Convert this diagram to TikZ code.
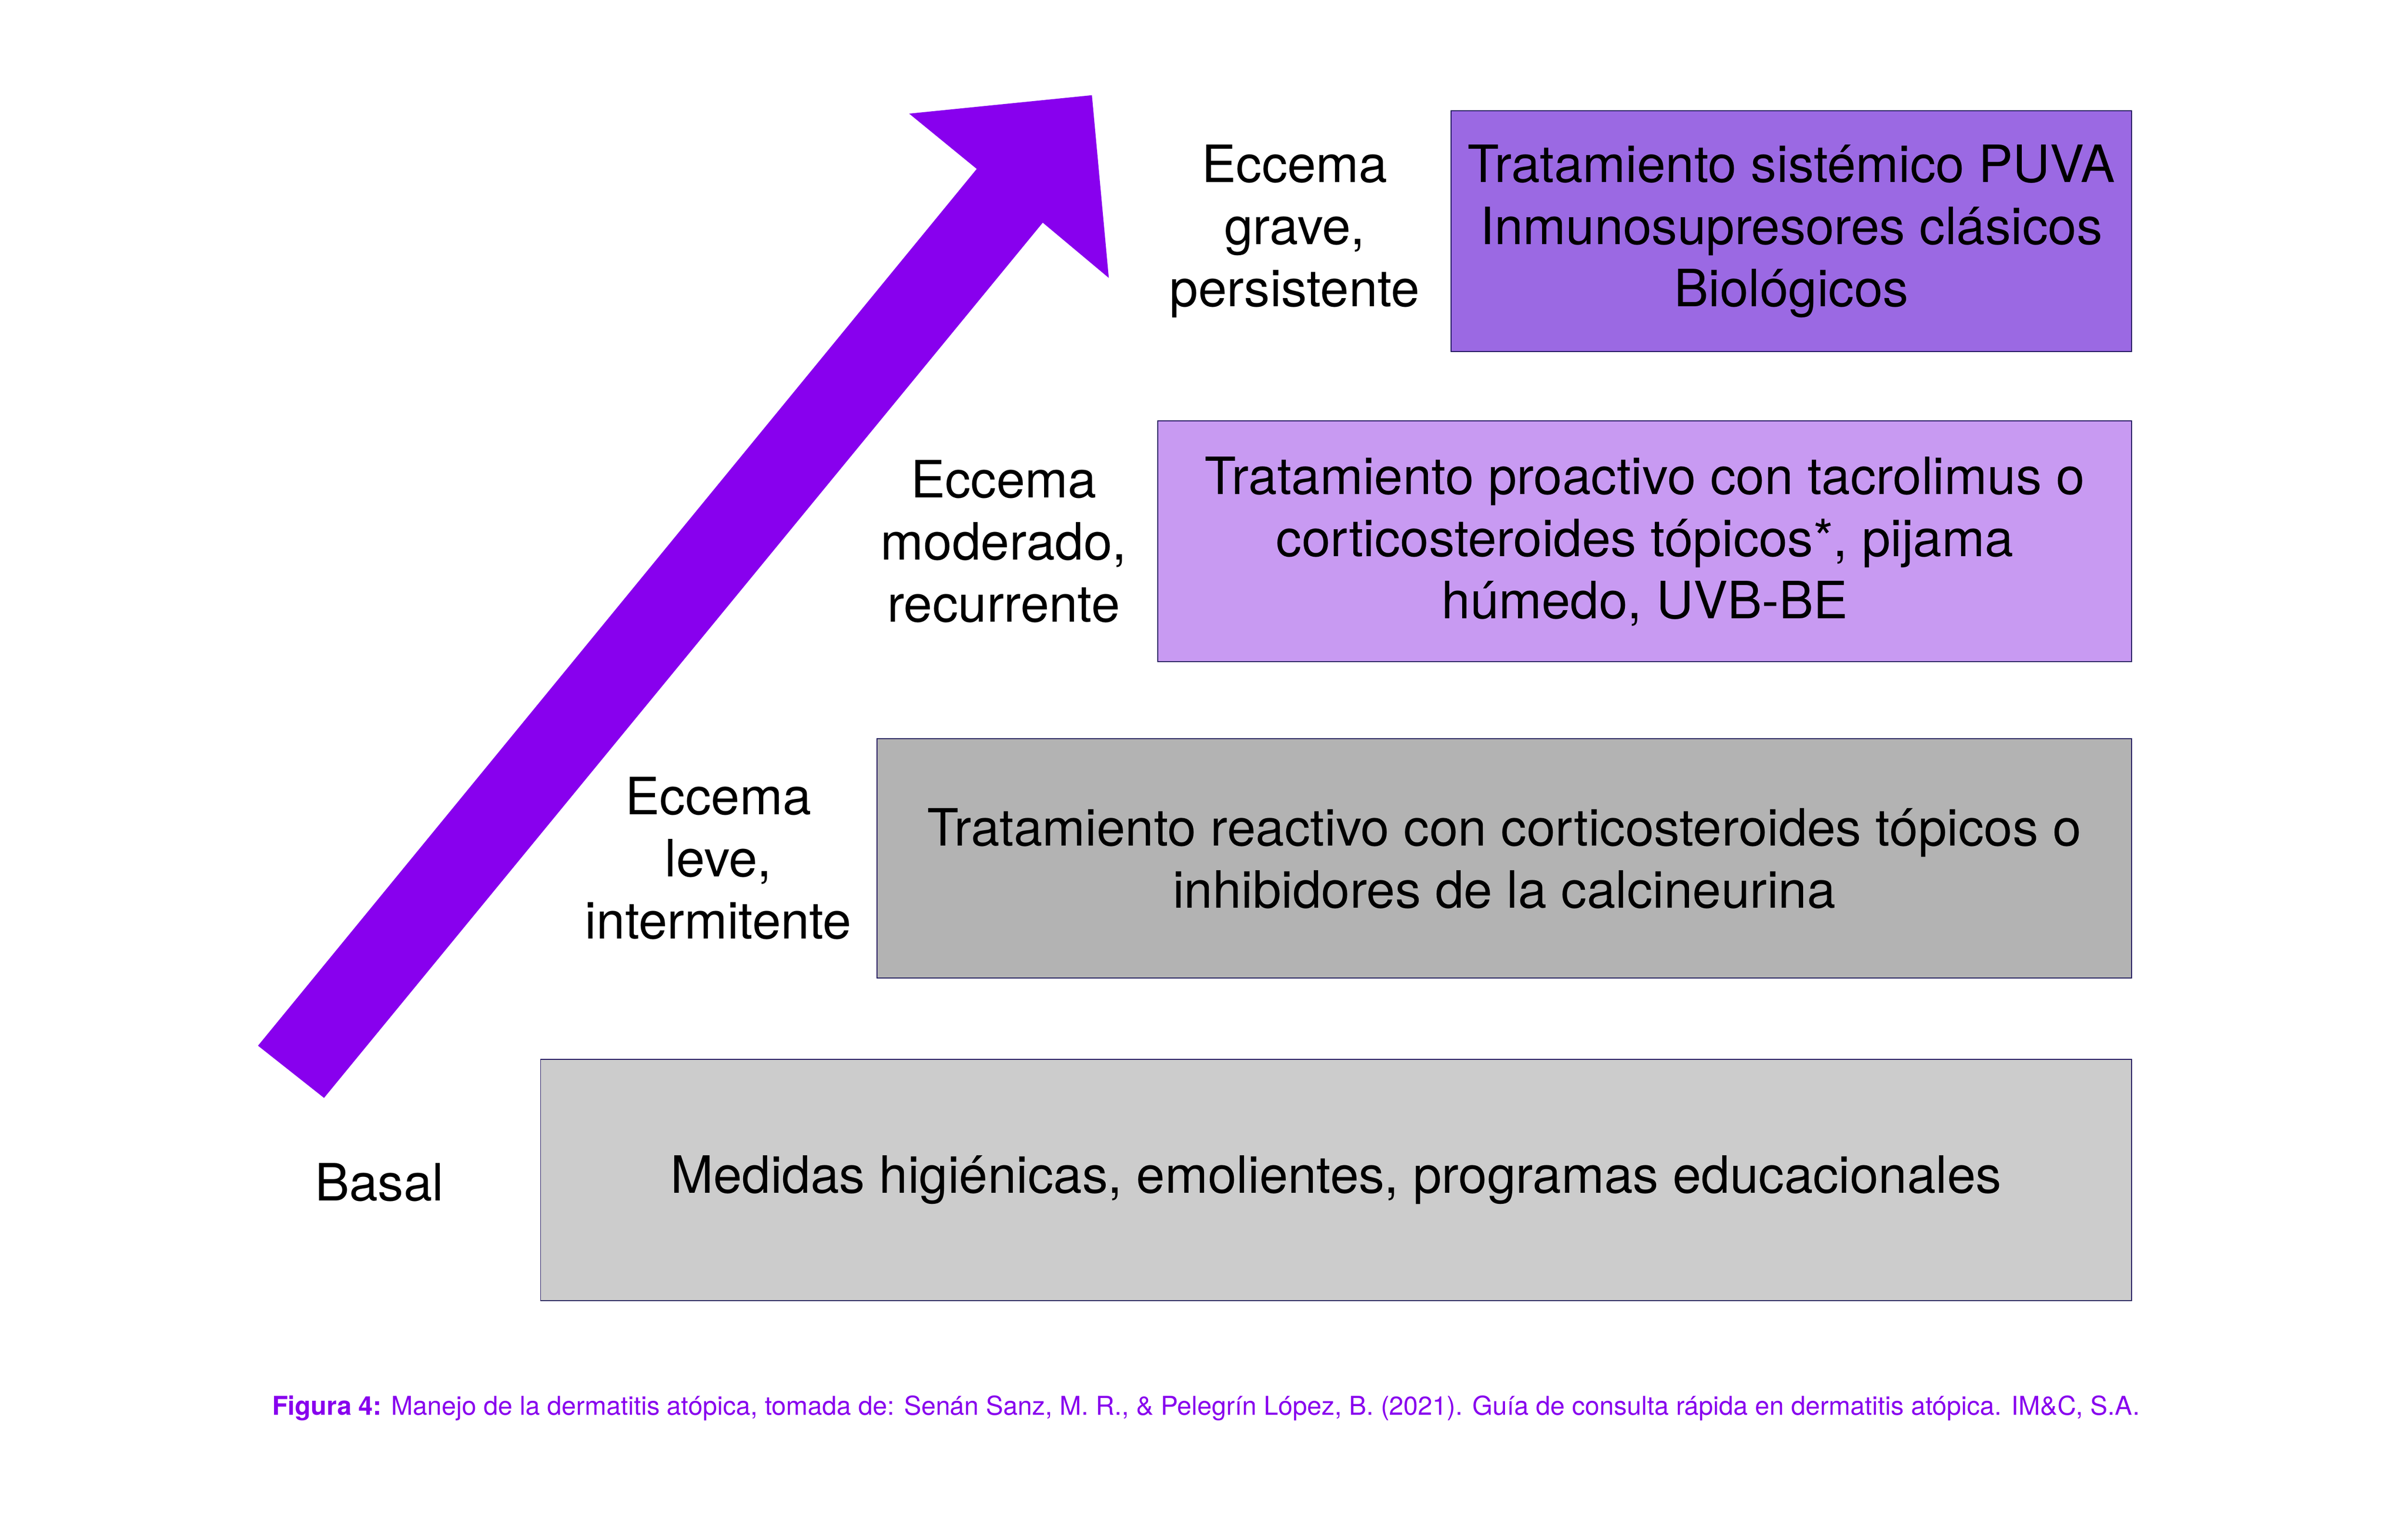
\documentclass[tikz,border=0pt]{standalone}
\usepackage{fontspec}
\setmainfont{TeX Gyre Heros}
\usepackage{tikz}
\usetikzlibrary{%
  positioning,%
  calc%
}
\definecolor{arrowviolet}{HTML}{8800EE}
\definecolor{boxline}{HTML}{1B0F5A}
\definecolor{grave}{HTML}{9B69E3}
\definecolor{moderado}{HTML}{C89AF2}
\definecolor{leve}{HTML}{B3B3B3}
\definecolor{basal}{HTML}{CCCCCC}
\tikzset{>=latex}
\tikzset{stagebox/.style = {draw=boxline, line width=0.6pt, inner sep=0pt,
        align=center, font=\fontsize{33.5}{40.5}\selectfont},%
        levellabel/.style={align=center, inner sep=0pt,
        font=\fontsize{33.5}{40.5}\selectfont}}

\begin{document}
\begin{tikzpicture}[x=1pt,y=-1pt]
          \useasboundingbox (0,0) rectangle (1568,1002.2);
          \fill[arrowviolet] (168,681) -- (211,715) -- (679,145) -- (722,181)
          -- (711,62) -- (592,74) -- (636,110) -- cycle;
          \node[stagebox,fill=grave,minimum width=443pt,minimum height=157pt]
          (tgrave) at (1166.5,150.5) {Tratamiento sistémico PUVA\\
          Inmunosupresores clásicos\\ Biológicos};
          \node[stagebox,fill=moderado,minimum width=634pt,minimum height=157pt]
          (tmoderado) at (1071,352.5) {Tratamiento proactivo con tacrolimus o\\
          corticosteroides tópicos*, pijama\\ húmedo, UVB-BE};
          \node[stagebox,fill=leve,minimum width=817pt,minimum height=156pt]
          (tleve) at (979.5,559) {Tratamiento reactivo con corticosteroides tópicos o\\
          inhibidores de la calcineurina};
          \node[stagebox,fill=basal,minimum width=1036pt,minimum height=157pt]
          (tbasal) at (870,768.5) {Medidas higiénicas, emolientes, programas educacionales};
          \node[levellabel,left=20pt of tgrave] (lgrave) {Eccema\\ grave,\\ persistente};
          \node[levellabel,left=20pt of tmoderado] (lmoderado) {Eccema\\ moderado,\\ recurrente};
          \node[levellabel,left=16pt of tleve] (lleve) {Eccema\\ leve,\\ intermitente};
          \node[levellabel] (lbasal) at (247,770) {Basal};
          \node[anchor=west,inner sep=0pt,text=arrowviolet,font=\fontsize{16.9}{20}\selectfont]
          (caption) at (177,917) {\textbf{Figura 4:} Manejo de la dermatitis atópica, tomada de: Senán Sanz, M. R., \& Pelegrín López, B. (2021). Guía de consulta rápida en dermatitis atópica. IM\&C, S.A.};
        \end{tikzpicture}
\end{document}
